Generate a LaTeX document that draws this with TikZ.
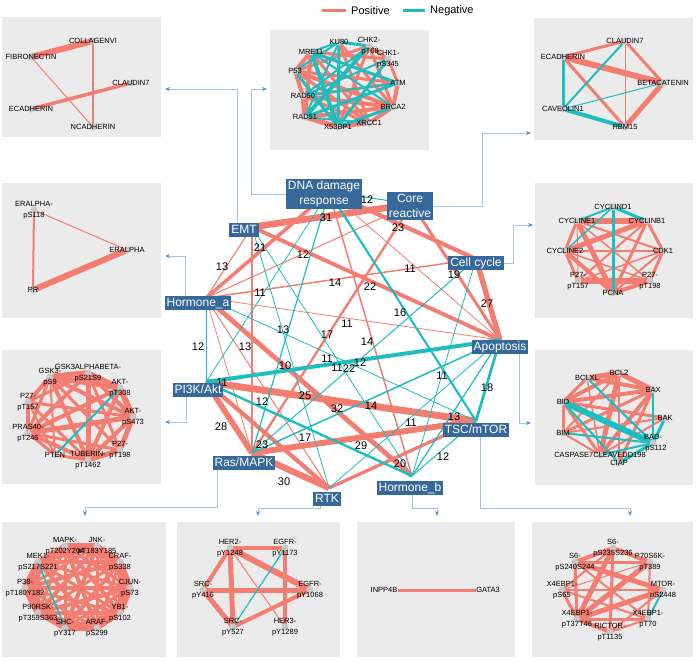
\documentclass[tikz,border=0pt]{standalone}
\usepackage{fontspec}
\setmainfont{Liberation Sans}
\usetikzlibrary{arrows.meta}
\definecolor{posc}{HTML}{F47D72}
\definecolor{negc}{HTML}{1DBDC0}
\definecolor{panelc}{HTML}{EBEBEB}
\definecolor{hubc}{HTML}{36689A}
\definecolor{linkc}{HTML}{A9C2DE}
\definecolor{tipc}{HTML}{5B8FCF}
\definecolor{dotc}{HTML}{C8C8C8}
\begin{document}
\begin{tikzpicture}[x=1pt,y=-1pt,
  pe/.style={draw=posc,line width=#1pt},
  ne/.style={draw=negc,line width=#1pt},
  hubbox/.style={fill=hubc,text=white,font=\fontsize{12}{15}\selectfont,inner xsep=2pt,inner ysep=1pt,text height=9pt,text depth=2.5pt,align=center},
  hubboxtwo/.style={fill=hubc,text=white,font=\fontsize{12}{15}\selectfont,inner xsep=2pt,inner ysep=2pt,align=center},
  elab/.style={font=\fontsize{11}{12}\selectfont,inner sep=0pt},
  plab/.style={font=\fontsize{7.5}{11}\selectfont,inner sep=0pt,align=center},
  dotn/.style={circle,fill=dotc,minimum size=7pt,inner sep=0pt},
  linkl/.style={draw=linkc,line width=0.8pt,-{Stealth[length=5pt,width=4pt,color=tipc]}},
  legl/.style={line width=3pt}]
\useasboundingbox (0,0) rectangle (696,661);
% ---------- legend
\coordinate (lp1) at (322,11); \coordinate (lp2) at (346,11);
\coordinate (ln1) at (403,11); \coordinate (ln2) at (425,11);
\draw[legl,draw=posc] (lp1) -- (lp2);
\draw[legl,draw=negc] (ln1) -- (ln2);
\node[anchor=west,font=\fontsize{11}{12}\selectfont,inner sep=0pt] (legp) at (351,11) {Positive};
\node[anchor=west,font=\fontsize{11}{12}\selectfont,inner sep=0pt] (legn) at (430,11) {Negative};
% ---------- panels
\fill[panelc] (2,17) rectangle (161,137);
\fill[panelc] (270,30) rectangle (429,150);
\fill[panelc] (534,18) rectangle (693,140);
\fill[panelc] (2,183) rectangle (161,318);
\fill[panelc] (535,183) rectangle (693,318);
\fill[panelc] (2,350) rectangle (161,484);
\fill[panelc] (535,350) rectangle (693,485);
\fill[panelc] (2,522) rectangle (166,657);
\fill[panelc] (177,522) rectangle (340,657);
\fill[panelc] (357,522) rectangle (515,657);
\fill[panelc] (532,522) rectangle (693,657);

% ---------- panel EMT
\foreach \n/\x/\y in {a1/93/41,a2/31/57,a3/131/83,a4/31/109,a5/93/127} \coordinate (\n) at (\x,\y);
\foreach \a/\b/\w in {a2/a1/6,a1/a5/2,a2/a5/1,a4/a3/3.5} \draw[pe=\w] (\a) -- (\b);
\foreach \n/\t in {a1/COLLAGENVI,a2/FIBRONECTIN,a3/CLAUDIN7,a4/ECADHERIN,a5/NCADHERIN}{
  \node[dotn] (\n d) at (\n) {}; \node[plab] (\n l) at (\n) {\t};}

% ---------- panel DNA damage
\foreach \n/\x/\y in {bk/339/42,bc2/369/46,bc1/388/59,bm/311/52,bp/295/71,ba/398/83,br50/303/96,bb/393/107,br51/305/117,bx/338/127,bxr/369/123} \coordinate (\n) at (\x,\y);
\foreach \a/\b/\w in {bp/bm/4,bp/br50/4,br50/br51/5,br51/bx/5,bx/bxr/4,bxr/bb/4,bb/ba/4,ba/bc1/3,bc1/bc2/3,bp/ba/3,bp/bb/4,bm/br51/4,bm/bxr/3,br50/bb/4,br50/ba/3,bp/bxr/3,bm/bc1/3,bk/bb/3,bk/bxr/3,bc2/bb/3,bc2/bx/3,br51/bb/4,bp/bc2/3,br50/bxr/3}
  \draw[pe=\w] (\a) -- (\b);
\foreach \a/\b/\w in {bk/bc2/3,bm/bk/2,bm/ba/3,bm/bx/4,bk/bx/3,bk/br51/2,bp/bx/3,bp/bk/2,bc2/br51/4,bc1/bx/3,bc1/br50/2,ba/br51/3,ba/br50/2,bb/bx/3,bxr/br51/2,bm/bb/2,br50/bc2/2}
  \draw[ne=\w] (\a) -- (\b);
\foreach \n/\t in {bk/KU80,bc2/{CHK2-\\\,\,pT68},bc1/{CHK1-\\pS345},bm/MRE11,bp/P53,ba/ATM,br50/RAD50,bb/BRCA2,br51/RAD51,bx/X53BP1,bxr/XRCC1}{
  \node[dotn] (\n d) at (\n) {}; \node[plab] (\n l) at (\n) {\t};}

% ---------- panel Core reactive
\foreach \n/\x/\y in {c1/625/41,c2/563/57,c3/663/83,c4/563/109,c5/625/127} \coordinate (\n) at (\x,\y);
\foreach \a/\b/\w in {c1/c2/3,c1/c3/3,c1/c5/1,c2/c3/6,c2/c5/3,c3/c5/5} \draw[pe=\w] (\a) -- (\b);
\foreach \a/\b/\w in {c1/c4/2,c2/c4/3,c4/c3/1,c4/c5/4} \draw[ne=\w] (\a) -- (\b);
\foreach \n/\t in {c1/CLAUDIN7,c2/ECADHERIN,c3/BETACATENIN,c4/CAVEOLIN1,c5/RBM15}{
  \node[dotn] (\n d) at (\n) {}; \node[plab] (\n l) at (\n) {\t};}

% ---------- panel Hormone_a
\foreach \n/\x/\y in {d1/34/210,d2/127/250,d3/33/290} \coordinate (\n) at (\x,\y);
\foreach \a/\b/\w in {d1/d2/1,d1/d3/2,d3/d2/6} \draw[pe=\w] (\a) -- (\b);
\foreach \n/\t in {d1/{ERALPHA-\\pS118},d2/ERALPHA,d3/PR}{
  \node[dotn] (\n d) at (\n) {}; \node[plab] (\n l) at (\n) {\t};}

% ---------- panel Cell cycle
\foreach \n/\x/\y in {ed1/613/207,ee1/577/221,eb1/647/221,ee2/565/251,ecdk/663/251,e157/578/281,e198/650/281,epcna/613/293} \coordinate (\n) at (\x,\y);
\foreach \a/\b/\w in {ee1/eb1/6,ee2/eb1/5,ee1/epcna/5,ee2/epcna/4,e157/e198/6,ee1/ee2/3,ee2/e157/3,ee2/ecdk/2,ee1/ecdk/2,eb1/ecdk/3,ecdk/e198/3,eb1/e157/2,epcna/e198/4,ee1/e198/1.5,ee2/e198/1.5,eb1/epcna/3,ee1/e157/1,e157/ecdk/1.5,epcna/ecdk/2}
  \draw[pe=\w] (\a) -- (\b);
\foreach \a/\b/\w in {ed1/ee1/2,ed1/eb1/3,ed1/epcna/3,ed1/ee2/1.5} \draw[ne=\w] (\a) -- (\b);
\foreach \n/\t in {ed1/CYCLIND1,ee1/CYCLINE1,eb1/CYCLINB1,ee2/CYCLINE2,ecdk/CDK1,e157/{P27-\\pT157},e198/{P27-\\pT198},epcna/PCNA}{
  \node[dotn] (\n d) at (\n) {}; \node[plab] (\n l) at (\n) {\t};}

% ---------- panel PI3K/Akt
\foreach \n/\x/\y in {fgab/88/373,fg9/50/377,fat/120/388,f157/28/402,fas/133/417,fpr/28/433,f198/120/450,fpt/55/455,ftu/88/460} \coordinate (\n) at (\x,\y);
\foreach \a/\b/\w in {fg9/fgab/6,fgab/fat/5,fat/fas/6,fas/f198/5,f198/ftu/5,ftu/fpt/3,fpt/fpr/3,fpr/f157/4,f157/fg9/4,fg9/fat/5,fg9/fas/4,fg9/ftu/4,fg9/fpr/3,fg9/fpt/2,fgab/fpr/4,fgab/ftu/5,fgab/fas/4,fgab/f157/3,fat/fpr/4,fat/ftu/4,fas/fpr/5,fas/ftu/4,f157/ftu/3,f157/fas/3,fpr/ftu/4,fpr/f198/3,f198/fg9/3,f157/fpt/2,fgab/f198/3}
  \draw[pe=\w] (\a) -- (\b);
\draw[ne=2] (fpt) -- (fat);
\foreach \n/\t in {fgab/{GSK3ALPHABETA-\\pS21S9},fg9/{GSK3-\\pS9},fat/{AKT-\\pT308},f157/{P27-\\pT157},fas/{AKT-\\pS473},fpr/{PRAS40-\\pT246},f198/{P27-\\pT198},fpt/PTEN,ftu/{TUBERIN-\\pT1462}}{
  \node[dotn] (\n d) at (\n) {}; \node[plab] (\n l) at (\n) {\t};}

% ---------- panel Apoptosis
\foreach \n/\x/\y in {gxl/587/378,gb2/619/373,gbx/653/390,gbd/563/402,gbk/665/418,gbm/563/433,gbad/653/443,gcs/600/455,gci/619/463} \coordinate (\n) at (\x,\y);
\foreach \a/\b/\w in {gxl/gb2/5,gb2/gbx/5,gxl/gbx/4,gbd/gbx/4,gbd/gb2/4,gbd/gxl/3,gbd/gbm/3,gbm/gbx/3,gbm/gb2/2,gcs/gbx/4,gcs/gb2/5,gcs/gbd/3,gbm/gcs/2,gbm/gbk/2,gbd/gbk/3,gcs/gbk/2,gci/gbx/3,gxl/gcs/1.5,gci/gb2/2}
  \draw[pe=\w] (\a) -- (\b);
\foreach \a/\b/\w in {gbd/gbad/6,gxl/gbad/2,gbd/gci/2,gbm/gbad/2,gbx/gbad/2,gbk/gbad/3,gcs/gbad/2,gci/gbad/3}
  \draw[ne=\w] (\a) -- (\b);
\foreach \n/\t in {gxl/BCLXL,gb2/BCL2,gbx/BAX,gbd/BID,gbk/BAK,gbm/BIM,gbad/{BAD-\\\hspace*{6pt}pS112},gci/CIAP,gcs/CASPASE7CLEAVEDD198}{
  \node[dotn] (\n d) at (\n) {}; \node[plab] (\n l) at (\n) {\t};}

% ---------- panel Ras/MAPK
\foreach \n/\x/\y in {hma/65/546,hjn/97/546,hme/38/562,hcr/120/562,hp38/25/588,hcj/130/588,hp90/38/613,hyb/120/613,hsh/65/628,har/97/628} \coordinate (\n) at (\x,\y);
\foreach \a/\b/\w in {hma/hjn/6,hma/hme/5,hjn/hcr/5,hme/hp38/6,hcr/hcj/6,hp38/hp90/6,hcj/hyb/6,hp90/hsh/5,hyb/har/5,hsh/har/6,hma/hcr/4,hma/hp38/4,hma/hcj/3,hma/hyb/4,hma/hsh/3,hma/har/4,hma/hp90/3,hjn/hme/4,hjn/hp38/3,hjn/hcj/4,hjn/hp90/4,hjn/hsh/4,hjn/har/3,hjn/hyb/3,hme/hcr/4,hme/hcj/3,hme/hp90/4,hme/hyb/3,hme/har/4,hcr/hp38/4,hcr/hp90/3,hcr/hyb/4,hcr/hsh/4,hcr/har/3,hp38/hcj/4,hp38/hyb/3,hp38/hsh/4,hp38/har/3,hcj/hp90/4,hcj/hsh/3,hcj/har/4,hp90/hyb/4,hp90/har/3,hyb/hsh/4}
  \draw[pe=\w] (\a) -- (\b);
\draw[ne=1.5] (hme) -- (hsh);
\foreach \n/\t in {hma/{MAPK-\\pT202Y204},hjn/{JNK-\\pT183Y185},hme/{MEK1-\\pS217S221},hcr/{CRAF-\\pS338},hp38/{P38-\\pT180Y182},hcj/{CJUN-\\pS73},hp90/{P90RSK-\\pT359S363},hyb/{YB1-\\pS102},hsh/{SHC-\\pY317},har/{ARAF-\\pS299}}{
  \node[dotn] (\n d) at (\n) {}; \node[plab] (\n l) at (\n) {\t};}

% ---------- panel RTK
\foreach \n/\x/\y in {kh2/230/548,ke73/285/548,ks16/203/590,ke68/310/590,ks27/233/627,kh3/285/627} \coordinate (\n) at (\x,\y);
\foreach \a/\b/\w in {kh2/ke73/4,kh2/ke68/6,kh2/ks27/5,kh2/ks16/4,kh2/kh3/1,ks16/ke68/5,ks16/ks27/5,ke73/kh3/4,ks27/ke68/4}
  \draw[pe=\w] (\a) -- (\b);
\draw[ne=1.2] (ks27) -- (ke73);
\foreach \n/\t in {kh2/{HER2-\\pY1248},ke73/{EGFR-\\pY1173},ks16/{SRC-\\pY416},ke68/{EGFR-\\pY1068},ks27/{SRC-\\pY527},kh3/{HER3-\\pY1289}}{
  \node[dotn] (\n d) at (\n) {}; \node[plab] (\n l) at (\n) {\t};}

% ---------- panel Hormone_b
\coordinate (li) at (384,590); \coordinate (lg) at (488,590);
\node[plab] (lil) at (li) {INPP4B};
\node[plab] (lgl) at (lg) {GATA3};
\draw[pe=3] (lil.east) -- (lgl.west);

% ---------- panel TSC/mTOR
\foreach \n/\x/\y in {ms6a/613/548,ms6b/575/562,mp70/650/562,mx65/562/590,mmt/663/590,mx37/577/619,mx70/648/619,mric/610/632} \coordinate (\n) at (\x,\y);
\foreach \a/\b/\w in {ms6b/ms6a/4,ms6a/mp70/4,ms6b/mp70/3,ms6b/mmt/5,ms6a/mx37/5,ms6a/mric/3,ms6b/mx37/3,mp70/mx37/5,mp70/mx70/2,mx65/mmt/2,mx65/mx37/3,mmt/mx37/5,mx37/mx70/3,mx37/mric/4,mx70/mric/2,ms6b/mx70/2,mx65/mx70/2,mp70/mx65/1,mmt/mric/2,ms6a/mx65/2}
  \draw[pe=\w] (\a) -- (\b);
\draw[ne=2] (mmt) -- (mx70);
\foreach \n/\t in {ms6a/{S6-\\pS235S236},ms6b/{S6-\\pS240S244},mp70/{P70S6K-\\pT389},mx65/{X4EBP1-\\pS65},mmt/{MTOR-\\pS2448},mx37/{X4EBP1-\\pT37T46},mx70/{X4EBP1-\\pT70},mric/{RICTOR-\\pT1135}}{
  \node[dotn] (\n d) at (\n) {}; \node[plab] (\n l) at (\n) {\t};}

% ---------- central network
\foreach \n/\x/\y in {nAp/500/340,nT/476/421,nHb/412/476,nK/329/488,nR/252/453,nP/206/382,nHa/206/298,nE/252/227,nD/329/192,nC/412/204,nCC/476/259} \coordinate (\n) at (\x,\y);
\foreach \a/\b/\w in {nE/nC/6.6,nD/nCC/4.2,nCC/nAp/5.4,nC/nAp/3,nD/nAp/0.8,nHa/nD/3.6,nHa/nE/1.2,nE/nAp/3.9,nHa/nC/1,nHa/nCC/1.5,nHa/nAp/0.8,nR/nC/2.4,nD/nHb/1.5,nE/nR/1.2,nHa/nR/0.8,nHa/nHb/4.8,nHa/nK/1,nP/nT/6.9,nP/nR/5.7,nP/nK/4.2,nR/nT/6,nT/nK/3.3,nR/nK/6.3}
  \draw[pe=\w] (\a) -- (\b);
\foreach \a/\b/\w in {nD/nC/1,nD/nT/2.1,nP/nD/0.8,nD/nR/1.2,nHa/nP/1,nE/nK/0.8,nE/nHb/0.8,nP/nAp/3.9,nCC/nR/1,nHa/nT/0.8,nCC/nHb/0.8,nAp/nT/2.7,nAp/nR/1.5,nAp/nHb/1.2,nAp/nK/0.8,nP/nHb/2.4,nT/nHb/1}
  \draw[ne=\w] (\a) -- (\b);
\foreach \i/\x/\y/\t in {1/367/200/12,2/326/218/31,3/398/228/23,4/260/248/21,5/222/267/13,6/303/255/12,7/410/269/11,8/454/275/19,9/335/283/14,10/370/287/22,11/487/304/27,12/260/293/11,13/400/313/16,14/347/324/11,15/283/330/13,16/327/335/17,17/367/342/14,18/198/347/12,19/245/347/13,20/285/366/10,21/327/359/11,22/337/368/11,40/349/369/22,23/360/363/12,24/222/383/11,25/442/376/11,26/487/388/18,27/305/396/25,28/262/402/12,29/337/409/32,30/371/406/14,31/454/417/13,32/411/423/11,33/221/427/28,34/305/438/17,35/262/445/23,36/361/446/29,37/443/457/12,38/400/464/20,39/284/482/30}
  \node[elab] (el\i) at (\x,\y) {\t};

\node[hubboxtwo] (bD) at (324,194) {DNA damage\\response};
\node[hubboxtwo] (bC) at (410,206) {Core\\reactive};
\node[hubbox] (bE) at (244,230) {EMT};
\node[hubbox] (bHa) at (198,303) {Hormone\_a};
\node[hubbox] (bCC) at (476,263) {Cell cycle};
\node[hubbox] (bAp) at (500,347) {Apoptosis};
\node[hubbox] (bP) at (198,390) {PI3K/Akt};
\node[hubbox] (bT) at (476,430) {TSC/mTOR};
\node[hubbox] (bR) at (244,463) {Ras/MAPK};
\node[hubbox] (bK) at (327,499) {RTK};
\node[hubbox] (bHb) at (410,488) {Hormone\_b};

% ---------- connectors to panels
\coordinate (tE) at (165,89);
\coordinate (tD) at (267,89);
\coordinate (tC) at (531,133);
\coordinate (tCC) at (533,225);
\coordinate (tHa) at (165,256);
\coordinate (tP) at (165,422);
\coordinate (tAp) at (531,423);
\coordinate (tT) at (630,516);
\coordinate (tR) at (85,516);
\coordinate (tK) at (258,516);
\coordinate (tHb) at (437,516);
\draw[linkl] (bE.north -| 237,0) |- (tE);
\draw[linkl] (bD.west) -- ++(-34,0) |- (tD);
\draw[linkl] (bC.east) -- (482,206) |- (tC);
\draw[linkl] (bCC.east) -- (513,263) |- (tCC);
\draw[linkl] (bHa.north -| 185,0) |- (tHa);
\draw[linkl] (bP.south -| 186,0) |- (tP);
\draw[linkl] (bAp.south -| 519,0) |- (tAp);
\draw[linkl] (bT.south -| 480,0) -- (480,508) -| (tT);
\draw[linkl] (bR.south -| 217,0) -- (217,507) -| (tR);
\draw[linkl] (bK.south -| 320,0) -- (320,508) -| (tK);
\draw[linkl] (bHb.south -| 412,0) -- (412,508) -| (tHb);
\end{tikzpicture}
\end{document}
